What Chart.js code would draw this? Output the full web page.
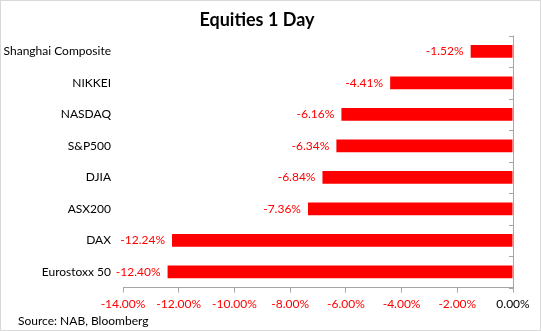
<!DOCTYPE html>
<html>
<head>
<meta charset="utf-8">
<script src="https://cdn.jsdelivr.net/npm/chart.js@4.4.1/dist/chart.umd.min.js"></script>
<style>
  body { margin: 0; background: #fff; }
  #wrap { width: 541px; height: 331px; box-sizing: border-box; border: 1px solid #d9d9d9; }
</style>
</head>
<body>
<div id="wrap"><canvas id="grafica"></canvas></div>
<script>
var indices = ['Shanghai Composite', 'NIKKEI', 'NASDAQ', 'S&P500', 'DJIA', 'ASX200', 'DAX', 'Eurostoxx 50'];
var cambio = [-1.52, -4.41, -6.16, -6.34, -6.84, -7.36, -12.24, -12.40];
var ejeMin = -14;
var ejeMax = 0;
var ejePaso = 2;
var fuente = 'Source: NAB, Bloomberg';

var letra = 'Lato, "Open Sans", sans-serif';
var rojo = '#ff0000';
var gris = '#a6a6a6';

function fmt(v) {
  return v.toFixed(2) + '%';
}

// porcentajes a la izquierda de cada barra
var etiquetas = {
  id: 'etiquetas',
  afterDatasetsDraw: function (chart) {
    var ctx = chart.ctx;
    var meta = chart.getDatasetMeta(0);
    ctx.save();
    ctx.font = '12px ' + letra;
    ctx.fillStyle = rojo;
    ctx.textAlign = 'right';
    ctx.textBaseline = 'middle';
    meta.data.forEach(function (bar, i) {
      ctx.fillText(fmt(cambio[i]), bar.x - 7, bar.y);
    });
    ctx.restore();
  }
};

// linea del cero con sus marcas, y la fuente abajo
var ejeCero = {
  id: 'ejeCero',
  afterDraw: function (chart) {
    var ctx = chart.ctx;
    var a = chart.chartArea;
    var x0 = chart.scales.x.getPixelForValue(0);
    var n = indices.length;
    var paso = (a.bottom - a.top) / n;
    ctx.save();
    ctx.strokeStyle = gris;
    ctx.lineWidth = 1;
    ctx.beginPath();
    ctx.moveTo(Math.round(x0) + 0.5, a.top);
    ctx.lineTo(Math.round(x0) + 0.5, a.bottom);
    for (var i = 0; i <= n; i++) {
      var y = Math.round(a.top + i * paso) + 0.5;
      ctx.moveTo(x0 - 4, y);
      ctx.lineTo(x0, y);
    }
    ctx.stroke();

    ctx.font = '12px ' + letra;
    ctx.fillStyle = '#000';
    ctx.textAlign = 'left';
    ctx.textBaseline = 'middle';
    ctx.fillText(fuente, 17, chart.height - 9);
    ctx.restore();
  }
};

var ctx = document.getElementById('grafica').getContext('2d');
new Chart(ctx, {
  type: 'bar',
  data: {
    labels: indices,
    datasets: [{
      data: cambio,
      backgroundColor: rojo,
      borderWidth: 0,
      barPercentage: 0.4,
      categoryPercentage: 1
    }]
  },
  options: {
    indexAxis: 'y',
    responsive: true,
    maintainAspectRatio: false,
    animation: false,
    layout: { padding: { left: 0, right: 27, top: 0, bottom: 15 } },
    plugins: {
      legend: { display: false },
      tooltip: { enabled: false },
      title: {
        display: true,
        text: 'Equities 1 Day',
        color: '#000',
        font: { family: letra, size: 18, weight: 'bold' },
        padding: { top: 8, bottom: 5 }
      }
    },
    scales: {
      x: {
        min: ejeMin,
        max: ejeMax,
        ticks: {
          stepSize: ejePaso,
          padding: 4,
          maxRotation: 0,
          font: { family: letra, size: 12 },
          color: function (c) { return c.tick.value < 0 ? rojo : '#000'; },
          callback: function (v) { return fmt(v); }
        },
        grid: { drawOnChartArea: false, color: gris, tickLength: 5 },
        border: { color: gris }
      },
      y: {
        afterFit: function (s) { s.width = 122; },
        ticks: {
          padding: 12,
          color: '#000',
          font: { family: letra, size: 12 }
        },
        grid: { display: false, drawTicks: false },
        border: { display: false }
      }
    }
  },
  plugins: [etiquetas, ejeCero]
});
</script>
</body>
</html>
